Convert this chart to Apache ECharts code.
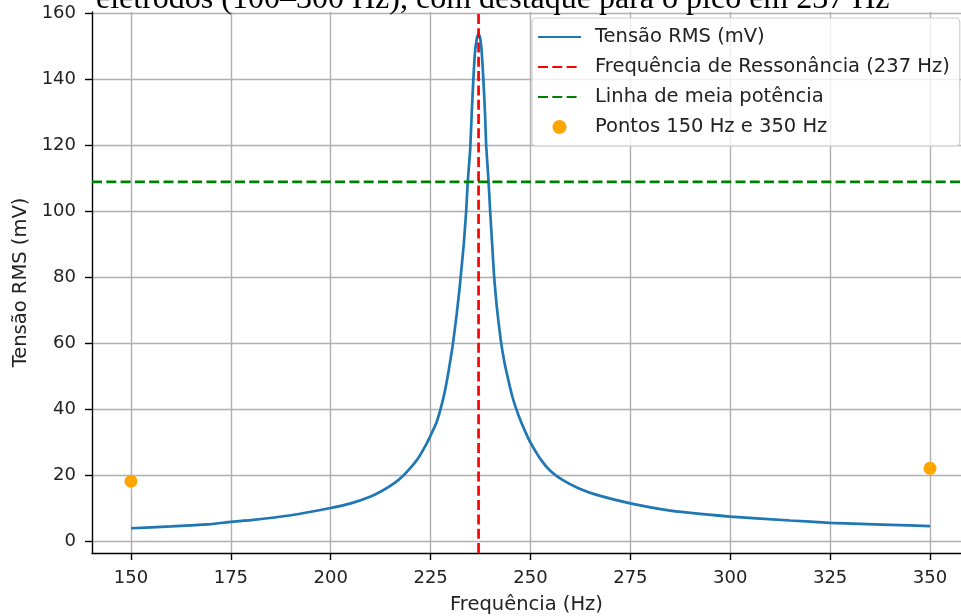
<!DOCTYPE html>
<html>
<head>
<meta charset="utf-8">
<script src="https://cdn.jsdelivr.net/npm/echarts@6/dist/echarts.min.js"></script>
<style>
html,body{margin:0;padding:0;background:#fff;}
#chart{width:961px;height:616px;}
</style>
</head>
<body>
<div id="chart"></div>
<script>
// ---- data ----
const freq = [150,160,170,175,180,190,200,205,210,213,216,218,220,222,224,225,226.5,227.5,228.5,229.5,230.5,231.5,232.2,232.6,233.3,233.9,234.3,234.9,235.3,235.7,236.1,236.6,237,237.4,237.8,238.2,238.6,238.9,239.5,239.9,240.4,240.9,241.6,242.6,243.5,244.5,245.4,246.3,247.5,249,250,252.5,255,258,262,267,275,285,300,315,325,340,350];
const tensao = [3.85,4.4,5.1,5.8,6.3,7.8,10.0,11.4,13.5,15.3,17.6,19.6,22.2,25.3,29.5,32,36,40,45,51.5,59,68.5,76,81,90,100,109,118.5,130,140,148,152.5,153.8,152.5,148,140,130,120,109,100,90,80,70.5,60.5,54,48.5,44,40.5,36.5,32.3,29.8,24.8,21.2,18.5,16,13.8,11.4,9.2,7.4,6.2,5.5,4.9,4.5];
const pontosFreq = [150, 350];
const pontosTensao = [18.1, 22.0];
const freqRessonancia = 237;
const meiaPotencia = 108.8;
const xTicks = [150,175,200,225,250,275,300,325,350];
const yTicks = [0,20,40,60,80,100,120,140,160];
const xRange = [140.24, 357.76];
const yRange = [-3.65, 160.3];
const titulo = 'eletrodos (100–300 Hz), com destaque para o pico em 237 Hz';
const nomes = ['Tensão RMS (mV)', 'Frequência de Ressonância (237 Hz)', 'Linha de meia potência', 'Pontos 150 Hz e 350 Hz'];

const curve = freq.map((f, i) => [f, tensao[i]]);
const pts = pontosFreq.map((f, i) => [f, pontosTensao[i]]);

const chart = echarts.init(document.getElementById('chart'), null, {renderer: 'canvas'});
const font = 'DejaVu Sans';
const txt = '#222';

const axisCommon = {
  axisLine: {show: true, onZero: false, lineStyle: {color: '#000', width: 1.4}},
  axisTick: {show: true, length: 7, lineStyle: {color: '#000', width: 1.4}},
  splitLine: {show: true, lineStyle: {color: '#b0b0b0', width: 1.4}},
  nameTextStyle: {fontFamily: font, fontSize: 19.5, color: txt}
};

chart.setOption({
  animation: false,
  backgroundColor: '#fff',
  graphic: [{
    type: 'text', left: 96, top: -16, z: 100,
    style: {text: titulo, fontFamily: 'Liberation Serif', fontSize: 32, fill: '#000'}
  }],
  grid: {left: 92, right: 0, top: 12, bottom: 63, containLabel: false, outerBoundsMode: 'none'},
  xAxis: Object.assign({}, axisCommon, {
    type: 'value', min: xRange[0], max: xRange[1],
    name: 'Frequência (Hz)', nameLocation: 'middle', nameGap: 42,
    axisTick: Object.assign({}, axisCommon.axisTick, {customValues: xTicks}),
    axisLabel: {customValues: xTicks, margin: 16, fontFamily: font, fontSize: 18, color: txt}
  }),
  yAxis: Object.assign({}, axisCommon, {
    type: 'value', min: yRange[0], max: yRange[1],
    name: 'Tensão RMS (mV)', nameLocation: 'middle', nameGap: 60, nameRotate: 90,
    axisTick: Object.assign({}, axisCommon.axisTick, {customValues: yTicks}),
    axisLabel: {customValues: yTicks, margin: 16, fontFamily: font, fontSize: 18, color: txt}
  }),
  legend: {
    orient: 'vertical', left: 532, top: 18,
    data: [
      {name: nomes[0], itemStyle: {opacity: 0}},
      {name: nomes[1], itemStyle: {opacity: 0}},
      {name: nomes[2], itemStyle: {opacity: 0}},
      {name: nomes[3]}
    ],
    itemWidth: 43, itemHeight: 14, itemGap: 10,
    padding: [9, 10, 9, 5],
    backgroundColor: 'rgba(255,255,255,0.8)',
    borderColor: '#d0d0d0', borderWidth: 1.2, borderRadius: 4,
    textStyle: {fontFamily: font, fontSize: 19.5, color: txt, lineHeight: 20, padding: [0, 0, 0, 9]}
  },
  series: [
    {
      name: nomes[0], type: 'line', data: curve, symbol: 'none', smooth: 0.15,
      lineStyle: {color: '#1f77b4', width: 2.7}, itemStyle: {color: '#1f77b4'}, z: 3
    },
    {
      name: nomes[1], type: 'line', symbol: 'none',
      data: [[freqRessonancia, yRange[0]], [freqRessonancia, yRange[1]]],
      lineStyle: {color: '#ff0000', width: 2.7, type: [10, 4.3]}, itemStyle: {color: '#ff0000'}, z: 4
    },
    {
      name: nomes[2], type: 'line', symbol: 'none',
      data: [[xRange[0], meiaPotencia], [xRange[1], meiaPotencia]],
      lineStyle: {color: '#008000', width: 2.7, type: [10, 4.3]}, itemStyle: {color: '#008000'}, z: 4
    },
    {
      name: nomes[3], type: 'scatter', data: pts, symbolSize: 13,
      itemStyle: {color: '#ffa500', opacity: 1}, z: 5
    }
  ]
});
</script>
</body>
</html>
